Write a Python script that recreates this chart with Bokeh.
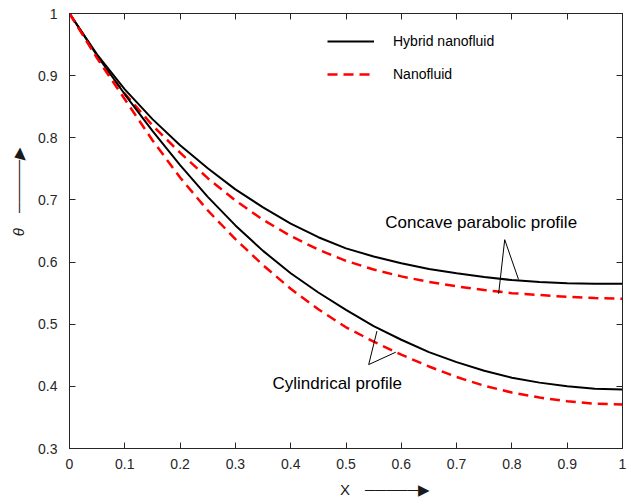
from bokeh.plotting import figure
from bokeh.models import (Range1d, LinearAxis, FixedTicker, Legend, LegendItem,
                          Label, ColumnDataSource, CustomLabelingPolicy)
from bokeh.embed import file_html
from bokeh.resources import INLINE

# ---------------- data ----------------
x = [0.0, 0.05, 0.1, 0.15, 0.2, 0.25, 0.3, 0.35, 0.4, 0.45, 0.5,
     0.55, 0.6, 0.65, 0.7, 0.75, 0.8, 0.85, 0.9, 0.95, 1.0]

hybrid_concave = [1.000, 0.934, 0.878, 0.830, 0.788, 0.751, 0.717, 0.688, 0.662, 0.640, 0.622,
                  0.609, 0.598, 0.589, 0.582, 0.576, 0.571, 0.568, 0.566, 0.565, 0.565]
nano_concave = [1.000, 0.930, 0.871, 0.820, 0.776, 0.735, 0.699, 0.668, 0.642, 0.620, 0.602,
                0.588, 0.577, 0.568, 0.561, 0.555, 0.550, 0.547, 0.544, 0.542, 0.541]
hybrid_cyl = [1.000, 0.932, 0.870, 0.811, 0.756, 0.705, 0.659, 0.618, 0.582, 0.551, 0.523,
              0.497, 0.475, 0.455, 0.439, 0.425, 0.414, 0.406, 0.400, 0.396, 0.395]
nano_cyl = [1.000, 0.928, 0.862, 0.796, 0.736, 0.683, 0.637, 0.595, 0.557, 0.524, 0.495,
            0.472, 0.451, 0.432, 0.415, 0.401, 0.390, 0.382, 0.376, 0.372, 0.371]

x_ticks = [0.0, 0.1, 0.2, 0.3, 0.4, 0.5, 0.6, 0.7, 0.8, 0.9, 1.0]
y_ticks = [0.3, 0.4, 0.5, 0.6, 0.7, 0.8, 0.9, 1.0]

series_names = ["Hybrid nanofluid", "Nanofluid"]

# annotation text and pointer positions (data units)
concave_text = "Concave parabolic profile"
concave_text_pos = (0.571, 0.663)
concave_apex = (0.787, 0.636)
concave_ends = [(0.776, 0.549), (0.812, 0.572)]

cyl_text = "Cylindrical profile"
cyl_text_pos = (0.367, 0.405)
cyl_apex = (0.541, 0.435)
cyl_ends = [(0.556, 0.489), (0.590, 0.455)]

# axis labels with their arrows (leading em spaces keep the letter centred)
ARROW = "\u2500" * 5 + "\u25b6"
PAD = "\u2003" * 5 + "\u2009"
x_label = PAD + "X" + "\u2003" + ARROW
y_label = PAD + "θ" + "\u2003" + ARROW

FONT = "Liberation Sans"
AX = "#262626"

p = figure(width=631, height=504, output_backend="svg", toolbar_location=None,
           x_range=Range1d(0, 1), y_range=Range1d(0.3, 1),
           min_border_left=69, min_border_right=9, min_border_top=13, min_border_bottom=56)
p.background_fill_color = "white"
p.border_fill_color = "white"
p.outline_line_color = AX
p.outline_line_width = 1
p.xgrid.visible = False
p.ygrid.visible = False

src = ColumnDataSource(dict(x=x, hc=hybrid_concave, nc=nano_concave, hy=hybrid_cyl, ny=nano_cyl))

r_h1 = p.line("x", "hc", source=src, line_color="black", line_width=2)
r_n1 = p.line("x", "nc", source=src, line_color="#FF0000", line_width=2.5, line_dash="10 6")
p.line("x", "hy", source=src, line_color="black", line_width=2)
p.line("x", "ny", source=src, line_color="#FF0000", line_width=2.5, line_dash="10 6")

# axes styling
for ax, ticks in ((p.xaxis[0], x_ticks), (p.yaxis[0], y_ticks)):
    ax.ticker = FixedTicker(ticks=ticks)
    ax.major_label_overrides = {0: "0", 1: "1"}
    ax.minor_tick_line_color = None
    ax.major_tick_in = 6
    ax.major_tick_out = 0
    ax.axis_line_color = AX
    ax.major_tick_line_color = AX
    ax.major_label_text_font = FONT
    ax.major_label_text_font_size = "14px"
    ax.major_label_text_color = AX
    ax.axis_label_text_font = FONT
    ax.axis_label_text_font_size = "15px"
    ax.axis_label_text_color = "#1a1a1a"

p.xaxis.major_label_standoff = 10
p.yaxis.major_label_standoff = 12
p.xaxis.axis_label = x_label
p.xaxis.axis_label_text_font_style = "normal"
p.xaxis.axis_label_standoff = 9
p.yaxis.axis_label = y_label
p.yaxis.axis_label_text_font_style = "italic"
p.yaxis.axis_label_standoff = 8

# box ticks on top and right (no labels drawn)
no_labels = CustomLabelingPolicy(code="return new indices.constructor(indices.size)")
for loc, ticks in (("above", x_ticks), ("right", y_ticks)):
    a = LinearAxis(ticker=FixedTicker(ticks=ticks))
    a.major_label_text_font_size = "0px"
    a.major_label_standoff = 0
    a.major_label_policy = no_labels
    a.minor_tick_line_color = None
    a.major_tick_in = 6
    a.major_tick_out = 0
    a.axis_line_color = AX
    a.major_tick_line_color = AX
    p.add_layout(a, loc)

# annotations
p.add_layout(Label(x=concave_text_pos[0], y=concave_text_pos[1], text=concave_text,
                   text_font=FONT, text_font_size="17px", text_color="black",
                   text_baseline="middle", text_align="left"))
p.add_layout(Label(x=cyl_text_pos[0], y=cyl_text_pos[1], text=cyl_text,
                   text_font=FONT, text_font_size="17px", text_color="black",
                   text_baseline="middle", text_align="left"))

seg_x0 = [concave_apex[0]] * 2 + [cyl_apex[0]] * 2
seg_y0 = [concave_apex[1]] * 2 + [cyl_apex[1]] * 2
seg_x1 = [e[0] for e in concave_ends] + [e[0] for e in cyl_ends]
seg_y1 = [e[1] for e in concave_ends] + [e[1] for e in cyl_ends]
p.segment(seg_x0, seg_y0, seg_x1, seg_y1, line_color="black", line_width=1)

legend = Legend(items=[LegendItem(label=series_names[0], renderers=[r_h1]),
                       LegendItem(label=series_names[1], renderers=[r_n1])],
                location=(258, 364), padding=0, margin=0, spacing=13,
                glyph_width=47, glyph_height=20, label_height=20, label_standoff=19,
                label_text_font=FONT, label_text_font_size="14px", label_text_color="black",
                background_fill_alpha=0, border_line_alpha=0)
p.add_layout(legend)

open("out.html", "w").write(file_html(p, INLINE))
